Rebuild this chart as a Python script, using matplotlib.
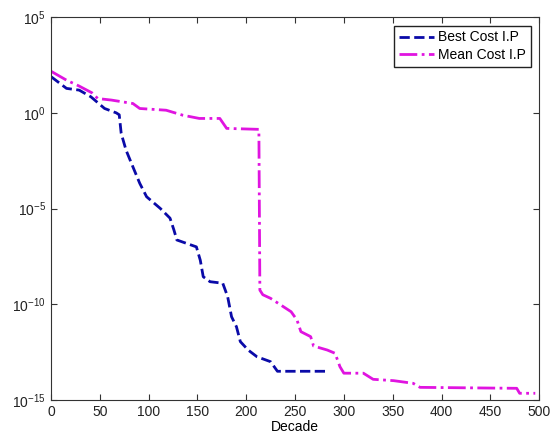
import numpy as np
import matplotlib.pyplot as plt
from matplotlib.ticker import FixedLocator, NullLocator

plt.rcParams['font.family'] = ['Liberation Sans', 'DejaVu Sans']
plt.rcParams['mathtext.fontset'] = 'custom'
plt.rcParams['mathtext.rm'] = 'Liberation Sans'
plt.rcParams['axes.unicode_minus'] = False

# decade index and log10 of cost
best_x = [0, 16, 29, 41, 55, 67, 70, 72, 77, 84, 91, 98, 112, 122, 126, 129, 139, 149,
          153, 156, 163, 176, 181, 185, 190, 194, 202, 211, 225, 232, 283]
best_log = [1.9, 1.28, 1.19, 0.84, 0.23, 0.0, -0.1, -1.07, -1.95, -2.82, -3.68, -4.38,
            -4.99, -5.5, -6.12, -6.64, -6.82, -7.0, -7.7, -8.56, -8.82, -8.9, -9.6,
            -10.65, -11.17, -11.95, -12.39, -12.74, -13.0, -13.5, -13.5]

mean_x = [0, 16, 29, 42, 48, 62, 84, 91, 118, 135, 152, 173, 180, 213, 214, 217, 225,
          246, 252, 256, 266, 269, 283, 291, 296, 300, 320, 330, 351, 371, 378, 477,
          480, 496]
mean_log = [2.18, 1.71, 1.4, 1.05, 0.75, 0.67, 0.49, 0.23, 0.14, -0.12, -0.29, -0.29,
            -0.81, -0.86, -9.26, -9.5, -9.69, -10.39, -10.82, -11.43, -11.69, -12.18,
            -12.39, -12.56, -13.26, -13.6, -13.6, -13.92, -13.99, -14.13, -14.34,
            -14.39, -14.65, -14.65]

x_ticks = [0, 50, 100, 150, 200, 250, 300, 350, 400, 450, 500]
y_ticks = [1e5, 1e0, 1e-5, 1e-10, 1e-15]

fig = plt.figure(figsize=(5.53, 4.41), dpi=100)
ax = fig.add_axes([0.092, 0.093, 0.883, 0.868])

ax.semilogy(best_x, 10.0 ** np.array(best_log), '--', color='#0a0aa8', lw=2,
            label='Best Cost I.P')
ax.semilogy(mean_x, 10.0 ** np.array(mean_log), '-.', color='#e014e0', lw=2,
            label='Mean Cost I.P')

ax.set_xlim(0, 500)
ax.set_ylim(1e-15, 1e5)
ax.set_xticks(x_ticks)
ax.yaxis.set_major_locator(FixedLocator(y_ticks))
ax.yaxis.set_minor_locator(NullLocator())
ax.tick_params(direction='in', top=True, right=True, labelsize=10, length=4,
               color='#333333', labelcolor='#222222')
for s in ax.spines.values():
    s.set_color('#333333')
ax.set_xlabel('Decade', fontsize=10, labelpad=1)

leg = ax.legend(loc='upper right', fontsize=10, fancybox=False, framealpha=1,
                edgecolor='#222222', handlelength=2.5, borderpad=0.35,
                labelspacing=0.25, handletextpad=0.3, borderaxespad=0.6)
leg.get_frame().set_linewidth(1)

fig.savefig('out.png', dpi=100)
